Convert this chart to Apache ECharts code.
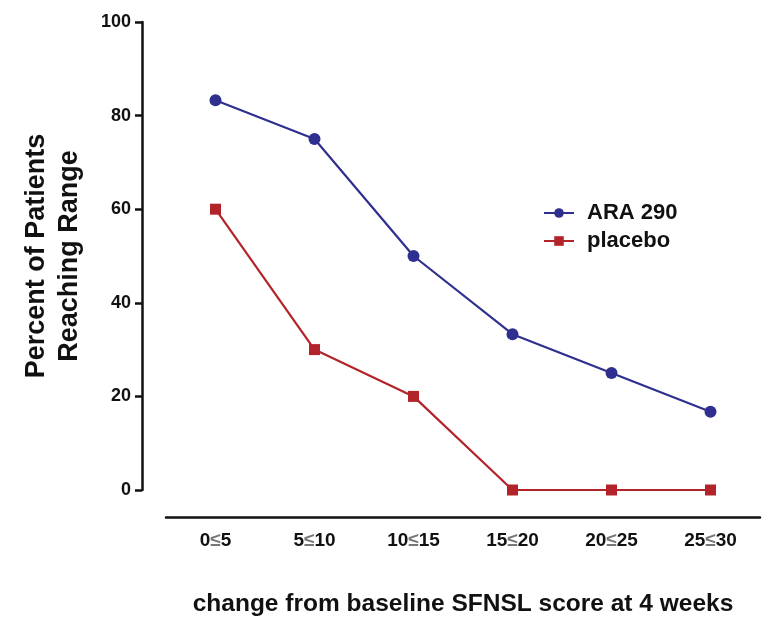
<!DOCTYPE html>
<html>
<head>
<meta charset="utf-8">
<script src="https://cdn.jsdelivr.net/npm/echarts@6/dist/echarts.min.js"></script>
<style>
  html, body { margin: 0; padding: 0; background: #fff; }
  #main { width: 782px; height: 639px; }
</style>
</head>
<body>
<div id="main"></div>
<script>
// data
const categories = ['0≤5', '5≤10', '10≤15', '15≤20', '20≤25', '25≤30']
const ara290 = [83.3, 75, 50, 33.3, 25, 16.7]
const placebo = [60, 30, 20, 0, 0, 0]
const yTicks = [0, 20, 40, 60, 80, 100]

const chart = echarts.init(document.getElementById('main'))
const font = 'Liberation Sans, Arial, sans-serif'

chart.setOption({
  animation: false,
  grid: {
    left: 166,
    right: 22,
    top: 22,
    bottom: 149
  },
  legend: {
    orient: 'vertical',
    left: 538,
    top: 197,
    itemWidth: 30,
    itemHeight: 12,
    itemGap: 6,
    textStyle: {
      fontFamily: font,
      fontSize: 22,
      fontWeight: 'bold',
      color: '#111',
      padding: [0, 0, 0, 8]
    },
    data: ['ARA 290', 'placebo']
  },
  xAxis: {
    type: 'category',
    data: categories,
    offset: 27,
    name: 'change from baseline SFNSL score at 4 weeks',
    nameLocation: 'middle',
    nameGap: 75,
    nameTextStyle: {
      fontFamily: font,
      fontSize: 24.5,
      fontWeight: 'bold',
      color: '#111'
    },
    axisLine: { onZero: false, lineStyle: { color: '#111', width: 2.5 } },
    axisTick: { alignWithLabel: true, length: 6, lineStyle: { color: '#111', width: 2.5 } },
    axisLabel: {
      interval: 0,
      margin: 14,
      fontFamily: font,
      fontSize: 19,
      fontWeight: 'bold',
      color: '#111',
      formatter: function (v) {
        const p = v.split('≤')
        return p[0] + '{le|≤}' + p[1]
      },
      rich: {
        le: { fontFamily: font, fontSize: 19, color: '#777' }
      }
    }
  },
  yAxis: {
    type: 'value',
    min: yTicks[0],
    max: yTicks[yTicks.length - 1],
    interval: 20,
    offset: 24,
    name: 'Percent of Patients\nReaching Range',
    nameLocation: 'middle',
    nameGap: 56,
    nameTextStyle: {
      fontFamily: font,
      fontSize: 27,
      fontWeight: 'bold',
      color: '#111',
      lineHeight: 33
    },
    splitLine: { show: false },
    axisLine: { show: true, lineStyle: { color: '#111', width: 2.5 } },
    axisTick: { show: true, length: 7, lineStyle: { color: '#111', width: 2.5 } },
    axisLabel: {
      margin: 11,
      fontFamily: font,
      fontSize: 18,
      fontWeight: 'bold',
      color: '#111'
    }
  },
  series: [
    {
      name: 'ARA 290',
      type: 'line',
      data: ara290,
      symbol: 'circle',
      symbolSize: 12,
      color: '#2e2f8f',
      lineStyle: { width: 2.2, color: '#2e2f8f' }
    },
    {
      name: 'placebo',
      type: 'line',
      data: placebo,
      symbol: 'rect',
      symbolSize: 11,
      color: '#b3242a',
      lineStyle: { width: 2.2, color: '#b3242a' }
    }
  ]
})
</script>
</body>
</html>
